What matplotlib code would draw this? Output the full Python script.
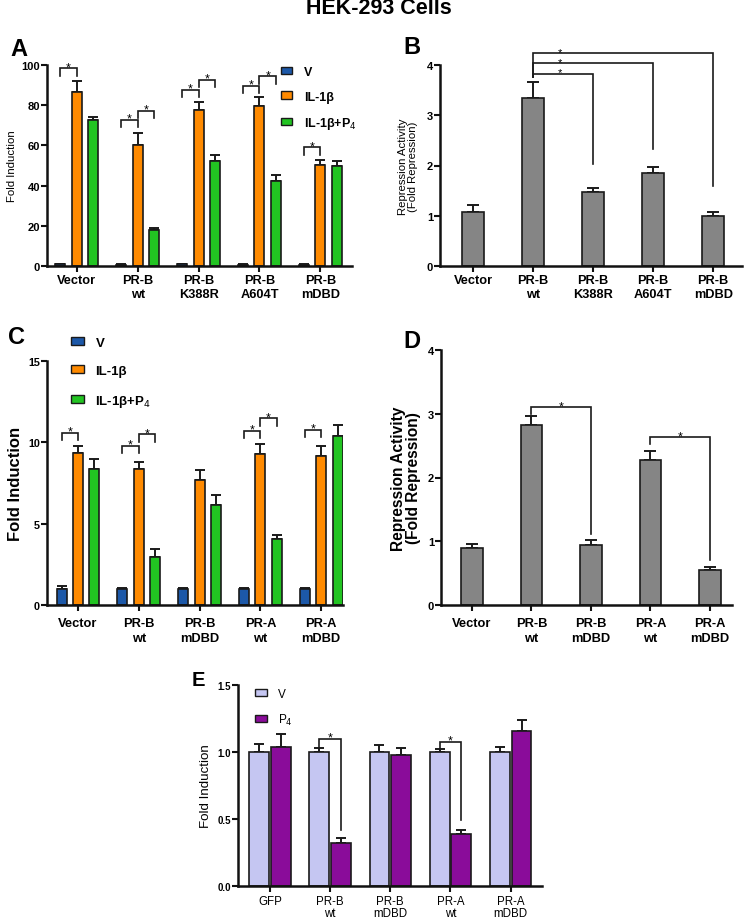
import matplotlib
matplotlib.use('Agg')
import matplotlib.pyplot as plt
from matplotlib.patches import Patch
import numpy as np

plt.rcParams['font.family'] = ['Liberation Sans', 'DejaVu Sans']

W, H = 745, 920
fig = plt.figure(figsize=(7.45, 9.2), dpi=100)

# ---------------- data ----------------
# Panel A
a_groups = ['Vector', 'PR-B\nwt', 'PR-B\nK388R', 'PR-B\nA604T', 'PR-B\nmDBD']
a_labels = ['V', 'IL-1β', 'IL-1β+P$_4$']
a_V = [0.8, 0.7, 0.8, 0.7, 0.7]
a_V_err = [0.3, 0.2, 0.3, 0.2, 0.2]
a_IL = [86.4, 60.3, 77.8, 79.8, 50.3]
a_IL_err = [5.8, 5.7, 3.7, 4.2, 2.5]
a_P4 = [72.4, 18.0, 52.2, 42.5, 49.7]
a_P4_err = [1.9, 0.8, 2.8, 2.7, 2.3]
# significance brackets: (group, bar_from, bar_to, height)
a_sig = [(0, 0, 1, 98.3), (1, 0, 1, 72.8), (1, 1, 2, 77.3), (2, 0, 1, 87.7),
         (2, 1, 2, 92.7), (3, 0, 1, 89.7), (3, 1, 2, 94.4), (4, 0, 1, 59.1)]

# Panel B
b_groups = ['Vector', 'PR-B\nwt', 'PR-B\nK388R', 'PR-B\nA604T', 'PR-B\nmDBD']
b_vals = [1.07, 3.34, 1.48, 1.85, 1.00]
b_err = [0.15, 0.32, 0.08, 0.12, 0.07]
# (from, to, height, right leg end)
b_sig = [(1, 2, 3.83, 2.03), (1, 3, 4.03, 2.33), (1, 4, 4.23, 1.59)]

# Panel C
c_groups = ['Vector', 'PR-B\nwt', 'PR-B\nmDBD', 'PR-A\nwt', 'PR-A\nmDBD']
c_labels = ['V', 'IL-1β', 'IL-1β+P$_4$']
c_V = [1.0, 1.0, 1.0, 1.0, 1.0]
c_V_err = [0.15, 0.07, 0.07, 0.07, 0.07]
c_IL = [9.37, 8.35, 7.69, 9.29, 9.13]
c_IL_err = [0.41, 0.43, 0.60, 0.60, 0.66]
c_P4 = [8.37, 2.94, 6.13, 4.07, 10.4]
c_P4_err = [0.59, 0.48, 0.62, 0.25, 0.66]
c_sig = [(0, 0, 1, 10.6), (1, 0, 1, 9.78), (1, 1, 2, 10.5), (3, 0, 1, 10.7),
         (3, 1, 2, 11.47), (4, 0, 1, 10.77)]

# Panel D
d_groups = ['Vector', 'PR-B\nwt', 'PR-B\nmDBD', 'PR-A\nwt', 'PR-A\nmDBD']
d_vals = [0.89, 2.82, 0.94, 2.28, 0.55]
d_err = [0.07, 0.14, 0.08, 0.14, 0.05]
# (from, to, height, left leg end, right leg end)
d_sig = [(1, 2, 3.10, 3.00, 1.12), (3, 4, 2.63, 2.52, 0.70)]

# Panel E
e_groups = ['GFP', 'PR-B\nwt', 'PR-B\nmDBD', 'PR-A\nwt', 'PR-A\nmDBD']
e_labels = ['V', 'P$_4$']
e_V = [1.0, 1.0, 1.0, 1.0, 1.0]
e_V_err = [0.06, 0.03, 0.05, 0.023, 0.04]
e_P4 = [1.035, 0.32, 0.98, 0.385, 1.157]
e_P4_err = [0.10, 0.037, 0.05, 0.035, 0.085]
# (group, height, left leg end, right leg end)
e_sig = [(1, 1.098, 1.03, 0.42), (3, 1.078, 1.03, 0.49)]

# ---------------- style ----------------
BLUE = '#1c58a8'
ORANGE = '#ff8a00'
GREEN = '#22c422'
GREY = '#858585'
LAV = '#c5c6f2'
PURPLE = '#8a0c9a'
EDGE = '#1a1a1a'


def add_ax(x0, y0, x1, y1):
    return fig.add_axes([x0 / W, 1 - y1 / H, (x1 - x0) / W, (y1 - y0) / H])


def style(ax, xt_size, xt_bold, yt_size, yt_bold, xpad=2, lsp=1.05):
    for s in ['top', 'right']:
        ax.spines[s].set_visible(False)
    for s in ['left', 'bottom']:
        ax.spines[s].set_linewidth(1.8)
        ax.spines[s].set_color('#111111')
    ax.tick_params(axis='both', direction='out', length=4, width=1.5, color='#111111')
    ax.tick_params(axis='x', labelsize=xt_size, pad=xpad)
    ax.tick_params(axis='y', labelsize=yt_size, pad=1)
    for t in ax.get_xticklabels():
        t.set_fontweight('bold' if xt_bold else 'normal')
        t.set_linespacing(lsp)
    for t in ax.get_yticklabels():
        t.set_fontweight('bold' if yt_bold else 'normal')


def bars(ax, x, vals, errs, color, width, cap):
    ax.bar(x, vals, width=width, color=color, edgecolor=EDGE, linewidth=1.2, zorder=2)
    ax.errorbar(x, vals, yerr=[np.zeros(len(vals)), errs], fmt='none',
                ecolor=EDGE, elinewidth=1.4, capsize=cap, capthick=1.4, zorder=1)


def bracket(ax, xa, xb, y, ya, yb, star_x, fs=9):
    ax.plot([xa, xa, xb, xb], [ya, y, y, yb], color=EDGE, lw=1.2, clip_on=False,
            solid_joinstyle='miter')
    ax.annotate('*', xy=(star_x, y), xytext=(0, -1.4), textcoords='offset points',
                ha='center', va='baseline', fontsize=fs, annotation_clip=False)


fig.text(379 / W, 1 - 9 / H, 'HEK-293 Cells', ha='center', va='center',
         fontsize=15.5, fontweight='bold')

# ---------------- Panel A ----------------
axA = add_ax(47, 66, 352, 267)
xA = np.arange(len(a_groups))
offA = 0.27
wA = 0.165
bars(axA, xA - offA, a_V, a_V_err, BLUE, wA, 3.5)
bars(axA, xA, a_IL, a_IL_err, ORANGE, wA, 3.5)
bars(axA, xA + offA, a_P4, a_P4_err, GREEN, wA, 3.5)
axA.set_xlim(-0.49, 4.52)
axA.set_ylim(0, 100)
axA.set_yticks([0, 20, 40, 60, 80, 100])
axA.set_xticks(xA)
axA.set_xticklabels(a_groups)
axA.set_ylabel('Fold Induction', fontsize=8.2, labelpad=3)
style(axA, 9.2, True, 8, True, xpad=2, lsp=1.2)
for g, i, j, y in a_sig:
    xa = g + (i - 1) * offA
    xb = g + (j - 1) * offA
    bracket(axA, xa, xb, y, y - 3.8, y - 3.8, (xa + xb) / 2)
fig.legend(handles=[Patch(facecolor=c, edgecolor=EDGE, linewidth=1.0) for c in (BLUE, ORANGE, GREEN)],
           labels=a_labels, loc='upper left', bbox_to_anchor=(281 / W, 1 - 67 / H),
           bbox_transform=fig.transFigure, frameon=False,
           prop={'weight': 'bold', 'size': 9}, handlelength=0.9, handleheight=0.55,
           handletextpad=0.95, labelspacing=1.0, borderpad=0, borderaxespad=0)
fig.text(10 / W, 1 - 50 / H, 'A', fontsize=17, fontweight='bold', va='center', ha='left')

# ---------------- Panel B ----------------
axB = add_ax(440, 66, 742, 267)
xB = np.arange(len(b_groups))
bars(axB, xB, b_vals, b_err, GREY, 0.36, 4.5)
axB.set_xlim(-0.55, 4.48)
axB.set_ylim(0, 4)
axB.set_yticks([0, 1, 2, 3, 4])
axB.set_xticks(xB)
axB.set_xticklabels(b_groups)
axB.set_ylabel('Repression Activity\n(Fold Repression)', fontsize=8.2, labelpad=6,
               linespacing=1.1)
style(axB, 9.2, True, 8, True, xpad=2, lsp=1.2)
for a, b, y, yb in b_sig:
    bracket(axB, a, b, y, 3.76, yb, 1.45, fs=8)
fig.text(403 / W, 1 - 48 / H, 'B', fontsize=17, fontweight='bold', va='center', ha='left')

# ---------------- Panel C ----------------
axC = add_ax(47, 362, 343, 606)
xC = np.arange(len(c_groups))
offC = 0.27
wC = 0.165
bars(axC, xC - offC, c_V, c_V_err, BLUE, wC, 3.5)
bars(axC, xC, c_IL, c_IL_err, ORANGE, wC, 3.5)
bars(axC, xC + offC, c_P4, c_P4_err, GREEN, wC, 3.5)
axC.set_xlim(-0.51, 4.36)
axC.set_ylim(0, 15)
axC.set_yticks([0, 5, 10, 15])
axC.set_xticks(xC)
axC.set_xticklabels(c_groups)
axC.set_ylabel('Fold Induction', fontsize=12, fontweight='bold', labelpad=4)
style(axC, 9.3, True, 7.8, True, xpad=5, lsp=1.3)
for g, i, j, y in c_sig:
    xa = g + (i - 1) * offC
    xb = g + (j - 1) * offC
    bracket(axC, xa, xb, y, y - 0.45, y - 0.45, (xa + xb) / 2)
fig.legend(handles=[Patch(facecolor=c, edgecolor=EDGE, linewidth=1.0) for c in (BLUE, ORANGE, GREEN)],
           labels=c_labels, loc='upper left', bbox_to_anchor=(71 / W, 1 - 338 / H),
           bbox_transform=fig.transFigure, frameon=False,
           prop={'weight': 'bold', 'size': 9.5}, handlelength=1.0, handleheight=0.55,
           handletextpad=0.85, labelspacing=1.2, borderpad=0, borderaxespad=0)
fig.text(8 / W, 1 - 338 / H, 'C', fontsize=17, fontweight='bold', va='center', ha='left')

# ---------------- Panel D ----------------
axD = add_ax(441, 351, 732, 606)
xD = np.arange(len(d_groups))
bars(axD, xD, d_vals, d_err, GREY, 0.36, 4.5)
axD.set_xlim(-0.52, 4.37)
axD.set_ylim(0, 4)
axD.set_yticks([0, 1, 2, 3, 4])
axD.set_xticks(xD)
axD.set_xticklabels(d_groups)
axD.set_ylabel('Repression Activity\n(Fold Repression)', fontsize=11.2, fontweight='bold',
               labelpad=5, linespacing=1.0)
style(axD, 9.3, True, 8, True, xpad=5, lsp=1.3)
for a, b, y, ya, yb in d_sig:
    bracket(axD, a, b, y, ya, yb, (a + b) / 2)
fig.text(403 / W, 1 - 341 / H, 'D', fontsize=17, fontweight='bold', va='center', ha='left')

# ---------------- Panel E ----------------
axE = add_ax(238, 686, 542, 887)
xE = np.arange(len(e_groups))
offE = 0.18
wE = 0.33
bars(axE, xE - offE, e_V, e_V_err, LAV, wE, 3.5)
bars(axE, xE + offE, e_P4, e_P4_err, PURPLE, wE, 3.5)
axE.set_xlim(-0.53, 4.52)
axE.set_ylim(0, 1.5)
axE.set_yticks([0.0, 0.5, 1.0, 1.5])
axE.set_yticklabels(['0.0', '0.5', '1.0', '1.5'])
axE.set_xticks(xE)
axE.set_xticklabels(e_groups)
axE.set_ylabel('Fold Induction', fontsize=9.6, labelpad=4)
style(axE, 8.3, False, 7, True, xpad=2.5, lsp=0.95)
for g, y, ya, yb in e_sig:
    bracket(axE, g - offE, g + offE, y, ya, yb, g)
fig.legend(handles=[Patch(facecolor=c, edgecolor=EDGE, linewidth=1.0) for c in (LAV, PURPLE)],
           labels=e_labels, loc='upper left', bbox_to_anchor=(255 / W, 1 - 689 / H),
           bbox_transform=fig.transFigure, frameon=False,
           prop={'size': 8.5}, handlelength=1.05, handleheight=0.55,
           handletextpad=0.9, labelspacing=1.0, borderpad=0, borderaxespad=0)
fig.text(192 / W, 1 - 681 / H, 'E', fontsize=14.5, fontweight='bold', va='center', ha='left')

fig.savefig('out.png', dpi=100)
